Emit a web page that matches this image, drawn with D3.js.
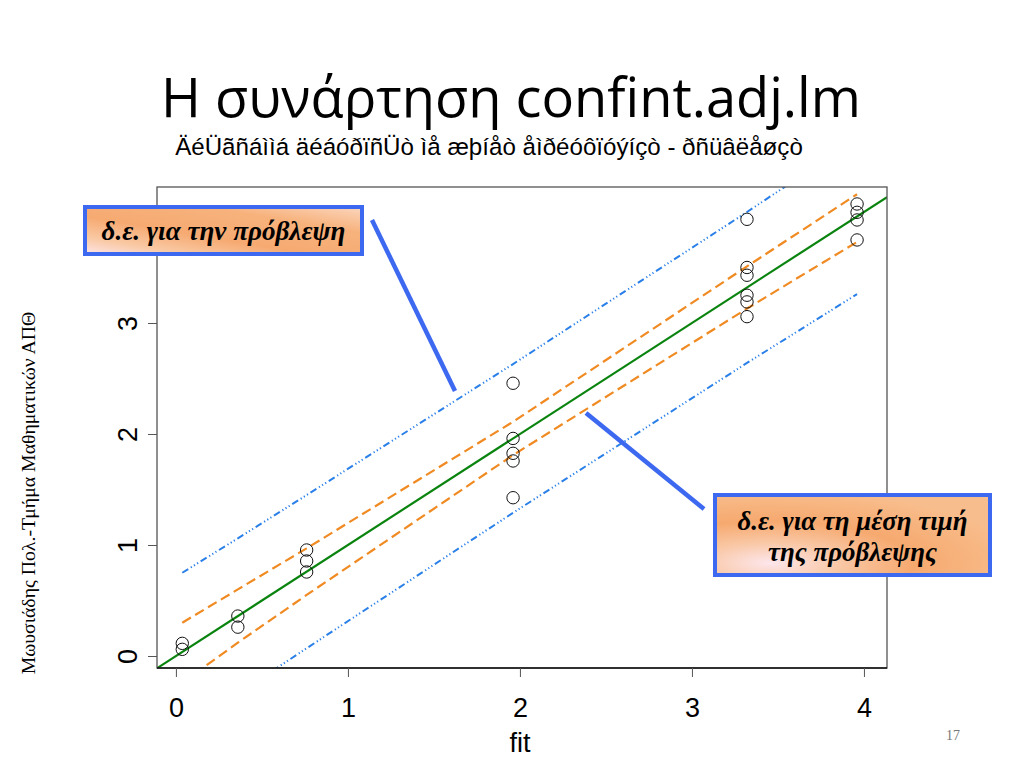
<!DOCTYPE html>
<html>
<head>
<meta charset="utf-8">
<script src="https://cdn.jsdelivr.net/npm/d3@7"></script>
<style>
html,body{margin:0;padding:0;background:#fff;}
svg{display:block;}
</style>
</head>
<body>
<svg id="chart" width="1024" height="768"></svg>
<script>
// ---------- data ----------
const fitX = [0.037,0.037, 0.36,0.36, 0.76,0.76,0.76,
              1.96,1.96,1.96,1.96,1.96,
              3.32,3.32,3.32,3.32,3.32,3.32,
              3.96,3.96,3.96,3.96];
const obsY = [0.114,0.06, 0.36,0.26, 0.955,0.856,0.757,
              2.457,1.96,1.826,1.757,1.426,
              3.934,3.50,3.43,3.25,3.19,3.057,
              4.072,3.997,3.928,3.748];
const bandX   = [0.037, 0.36, 0.76, 1.96, 3.32, 3.96];
const ciUpper = [0.30, 0.60, 0.97, 2.11, 3.51, 4.16];
const ciLower = [-0.24, 0.12, 0.55, 1.81, 3.13, 3.73];
const piUpper = [0.75, 1.06, 1.45, 2.63, 4.00, 4.66];
const piLower = [-0.67, -0.34, 0.07, 1.29, 2.64, 3.26];
const ablineCoef = [0, 1]; // intercept, slope
const xTicks = [0, 1, 2, 3, 4];
const yTicks = [0, 1, 2, 3];
const titleText = "Η συνάρτηση confint.adj.lm";
const subtitleText = "ÄéÜãñáììá äéáóðïñÜò ìå æþíåò åìðéóôïóýíçò - ðñüâëåøçò";
const xLabel = "fit";
const sideText = "Μωυσιάδης Πολ.-Τμήμα Μαθηματικών ΑΠΘ";
const slideNo = "17";
const callout1 = ["δ.ε. για την πρόβλεψη"];
const callout2 = ["δ.ε. για τη μέση τιμή", "της πρόβλεψης"];

// ---------- layout ----------
const svg = d3.select("#chart");
const L = 157, R = 887, T = 187, B = 668;
const x = d3.scaleLinear().domain([-0.11, 4.134]).range([L, R]);
const y = d3.scaleLinear().domain([-0.108, 4.225]).range([B, T]);

function fitWidth(sel, w) {
  const cur = parseFloat(sel.attr("font-size"));
  const len = sel.node().getComputedTextLength();
  sel.attr("font-size", cur * w / len);
}

// title
const title = svg.append("text").attr("x", 511).attr("y", 117)
  .attr("text-anchor", "middle").attr("font-family", "'Open Sans', 'Noto Sans', sans-serif")
  .attr("font-size", 60).attr("fill", "#000").text(titleText);
fitWidth(title, 700);

const sub = svg.append("text").attr("x", 489).attr("y", 155)
  .attr("text-anchor", "middle").attr("font-family", "'Liberation Sans', Arial, sans-serif")
  .attr("font-size", 22).attr("fill", "#000").text(subtitleText);
fitWidth(sub, 628);

// side text
const side = svg.append("text")
  .attr("transform", "translate(35,493) rotate(-90)")
  .attr("text-anchor", "middle").attr("font-family", "'Liberation Serif', 'Times New Roman', serif")
  .attr("font-size", 17).attr("fill", "#000").text(sideText);
fitWidth(side, 363);

// slide number
svg.append("text").attr("x", 953).attr("y", 740).attr("text-anchor", "middle")
  .attr("font-family", "'Liberation Serif', serif").attr("font-size", 14)
  .attr("fill", "#777").text(slideNo);

// clip
const defs = svg.append("defs");
defs.append("clipPath").attr("id", "plotclip")
  .append("rect").attr("x", L).attr("y", T).attr("width", R - L).attr("height", B - T);

const plot = svg.append("g").attr("clip-path", "url(#plotclip)");

// prediction interval lines (blue dot-dash)
const line = d3.line().x(d => x(d[0])).y(d => y(d[1]));
[piUpper, piLower].forEach(arr => {
  plot.append("path").datum(bandX.map((v, i) => [v, arr[i]]))
    .attr("d", line).attr("fill", "none").attr("stroke", "#2a80e8")
    .attr("stroke-width", 2).attr("stroke-dasharray", "7,3,1.2,2.5,1.2,2.5,1.2,3");
});
// confidence lines (orange dashed)
[ciUpper, ciLower].forEach(arr => {
  plot.append("path").datum(bandX.map((v, i) => [v, arr[i]]))
    .attr("d", line).attr("fill", "none").attr("stroke", "#f08a22")
    .attr("stroke-width", 2.2).attr("stroke-dasharray", "10,5");
});
// fitted line
const xd = x.domain();
plot.append("path").datum(xd.map(v => [v, ablineCoef[0] + ablineCoef[1] * v]))
  .attr("d", line).attr("fill", "none").attr("stroke", "#0a840f").attr("stroke-width", 2.2);

// points
plot.selectAll("circle.pt").data(fitX.map((v, i) => [v, obsY[i]])).join("circle")
  .attr("class", "pt").attr("cx", d => x(d[0])).attr("cy", d => y(d[1]))
  .attr("r", 6.2).attr("fill", "none").attr("stroke", "#111").attr("stroke-width", 1);

// box
svg.append("rect").attr("x", L).attr("y", T).attr("width", R - L).attr("height", B - T)
  .attr("fill", "none").attr("stroke", "#555").attr("stroke-width", 1.3);
svg.append("line").attr("x1", L).attr("x2", R).attr("y1", B).attr("y2", B)
  .attr("stroke", "#111").attr("stroke-width", 1.3);

// axes
const xAxis = svg.append("g").attr("transform", `translate(0,${B})`)
  .call(d3.axisBottom(x).tickValues(xTicks).tickFormat(d3.format("d")).tickSize(9).tickPadding(22));
xAxis.select(".domain").remove();
xAxis.selectAll("line").attr("stroke", "#555");
xAxis.selectAll("text").attr("font-family", "'Liberation Sans', Arial, sans-serif")
  .attr("font-size", 27).attr("fill", "#000").attr("dy", 0).attr("y", 49);

const yAxis = svg.append("g").attr("transform", `translate(${L},0)`)
  .call(d3.axisLeft(y).tickValues(yTicks).tickFormat(d3.format("d")).tickSize(9));
yAxis.select(".domain").remove();
yAxis.selectAll("line").attr("stroke", "#555");
yAxis.selectAll("text").attr("font-family", "'Liberation Sans', Arial, sans-serif")
  .attr("font-size", 27).attr("fill", "#000")
  .attr("x", null).attr("dy", null).attr("text-anchor", "middle")
  .attr("transform", "translate(-20,0) rotate(-90)").attr("y", 0);

svg.append("text").attr("x", 520).attr("y", 752).attr("text-anchor", "middle")
  .attr("font-family", "'Liberation Sans', Arial, sans-serif").attr("font-size", 27)
  .attr("fill", "#000").text(xLabel);

// callout pointer lines
svg.append("line").attr("x1", 372).attr("y1", 220).attr("x2", 455).attr("y2", 391)
  .attr("stroke", "#3d68f0").attr("stroke-width", 4.5);
svg.append("line").attr("x1", 586).attr("y1", 413).attr("x2", 704).attr("y2", 509)
  .attr("stroke", "#3d68f0").attr("stroke-width", 4.5);

// gradients
const g = defs.append("linearGradient").attr("id", "peach")
  .attr("x1", "0%").attr("y1", "100%").attr("x2", "100%").attr("y2", "0%");
[["0%", "#fde4e8"], ["18%", "#f9c9a4"], ["40%", "#f6aa72"], ["72%", "#f7b27c"], ["100%", "#fbd6be"]]
  .forEach(s => g.append("stop").attr("offset", s[0]).attr("stop-color", s[1]));
const g2 = defs.append("radialGradient").attr("id", "peach2").attr("cx", "20%").attr("cy", "85%").attr("r", "90%");
[["0%", "#fde6ec"], ["28%", "#f9c8a6"], ["58%", "#f6a96f"], ["100%", "#f8bd8c"]]
  .forEach(s => g2.append("stop").attr("offset", s[0]).attr("stop-color", s[1]));

function callout(x0, y0, w, h, lines, baselines, widths, fill) {
  svg.append("rect").attr("x", x0).attr("y", y0).attr("width", w).attr("height", h)
    .attr("fill", fill).attr("stroke", "#3d68f0").attr("stroke-width", 4);
  let fs = null;
  lines.forEach((t, i) => {
    const tx = svg.append("text").attr("x", x0 + w / 2).attr("y", baselines[i]).attr("text-anchor", "middle")
      .attr("font-family", "'Liberation Serif', 'Times New Roman', serif")
      .attr("font-style", "italic").attr("font-weight", "bold").attr("font-size", 22)
      .attr("fill", "#000").text(t);
    if (i === 0) { fitWidth(tx, widths); fs = tx.attr("font-size"); }
    else tx.attr("font-size", fs);
  });
}
callout(85, 207, 277, 47, callout1, [240], 244, "url(#peach)");
callout(715, 495, 275, 80, callout2, [530, 561], 230, "url(#peach2)");
</script>
</body>
</html>
